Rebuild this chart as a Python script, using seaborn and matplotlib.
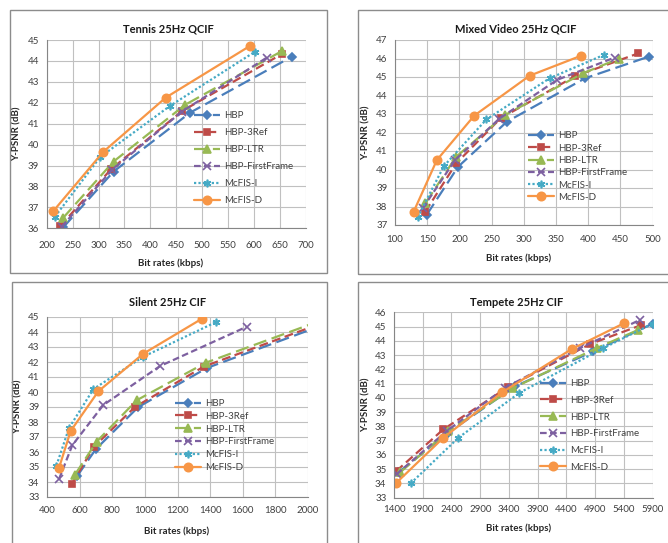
import numpy as np
import pandas as pd
import matplotlib
matplotlib.use("Agg")
import matplotlib.pyplot as plt
from matplotlib.patches import Rectangle
import seaborn as sns

# ---------------- data ----------------
series = ["HBP", "HBP-3Ref", "HBP-LTR", "HBP-FirstFrame", "McFIS-I", "McFIS-D"]

tennis_rate = [
    [232, 329, 477, 673],
    [226, 324, 461, 654],
    [231, 329, 467, 654],
    [229, 326, 461, 625],
    [216, 303, 438, 602],
    [213, 309, 430, 592],
]
tennis_psnr = [
    [36.05, 38.71, 41.53, 44.20],
    [36.10, 38.82, 41.60, 44.33],
    [36.48, 39.19, 41.90, 44.47],
    [36.08, 38.79, 41.58, 44.16],
    [36.56, 39.40, 41.85, 44.44],
    [36.83, 39.65, 42.25, 44.71],
]

mixed_rate = [
    [149, 198, 274, 395, 494],
    [147, 195, 264, 380, 478],
    [147, 195, 271, 392, 448],
    [143, 193, 262, 352, 441],
    [135, 176, 242, 340, 424],
    [129, 165, 223, 309, 389],
]
mixed_psnr = [
    [37.54, 40.15, 42.59, 44.93, 46.10],
    [37.72, 40.33, 42.77, 45.05, 46.28],
    [38.17, 40.69, 42.95, 45.20, 46.00],
    [37.90, 40.50, 42.75, 44.85, 46.05],
    [37.41, 40.19, 42.71, 44.93, 46.19],
    [37.72, 40.51, 42.91, 45.07, 46.15],
]

silent_rate = [
    [585, 700, 960, 1380, 2100],
    [551, 688, 939, 1362, 2100],
    [572, 705, 950, 1373, 2100],
    [474, 555, 745, 1093, 1624],
    [458, 535, 685, 990, 1434],
    [474, 545, 715, 990, 1352],
]
silent_psnr = [
    [34.40, 36.20, 39.00, 41.60, 44.50],
    [33.85, 36.35, 39.00, 41.70, 44.65],
    [34.50, 36.70, 39.45, 41.95, 44.85],
    [34.20, 36.45, 39.13, 41.73, 44.35],
    [35.10, 37.60, 40.20, 42.35, 44.65],
    [34.95, 37.40, 40.05, 42.55, 44.90],
]

tempete_rate = [
    [1475, 2346, 3506, 4869, 5900],
    [1435, 2258, 3390, 4811, 5700],
    [1504, 2346, 3477, 4927, 5652],
    [1446, 2316, 3331, 4637, 5681],
    [1690, 2520, 3581, 5043, 5900],
    [1435, 2258, 3285, 4492, 5402],
]
tempete_psnr = [
    [34.77, 37.56, 40.81, 43.26, 45.20],
    [34.85, 37.79, 40.77, 43.77, 45.10],
    [34.77, 37.67, 40.70, 43.49, 44.77],
    [34.65, 37.67, 40.70, 43.49, 45.47],
    [34.00, 37.20, 40.35, 43.49, 45.20],
    [34.02, 37.20, 40.40, 43.42, 45.23],
]

titles = ["Tennis 25Hz QCIF", "Mixed Video 25Hz QCIF", "Silent 25Hz CIF", "Tempete 25Hz CIF"]

# ---------------- styling ----------------
colors = ["#4A7EBB", "#BE4B48", "#98B954", "#7D60A0", "#46AAC5", "#F79646"]
markers = ["D", "s", "^", "x", (6, 2, 0), "o"]
msizes = [4.2, 5, 5.5, 5.5, 5.5, 6]
lstyles = [(0, (6, 2.5)), (0, (4, 2)), (0, (6, 2.5)), (0, (3, 1.5)), (0, (1, 1)), "-"]

sns.set_style("whitegrid")
plt.rcParams["font.family"] = ["Lato", "DejaVu Sans"]

W, H = 668, 543
fig = plt.figure(figsize=(W / 100, H / 100), dpi=100)


def px_axes(l, t, r, b):
    return fig.add_axes([l / W, 1 - b / H, (r - l) / W, (b - t) / H])


# panel frames
for (l, t, r, b) in [(10, 10, 327, 273), (358, 10, 680, 274),
                     (12, 282, 327, 560), (358, 282, 680, 560)]:
    fig.add_artist(Rectangle((l / W, 1 - b / H), (r - l) / W, (b - t) / H,
                             transform=fig.transFigure, fill=False,
                             edgecolor="#8c8c8c", linewidth=1.0))

panels = [
    dict(rate=tennis_rate, psnr=tennis_psnr, box=(46.7, 40, 305.7, 228.3),
         xlim=(200, 700), xstep=50, ylim=(36, 45),
         title_xy=(168, 29), ylab_x=17, xlab_y=263, xlab_x=171,
         leg=(194, 117.3), legsp=0.82, xpad=6.0),
    dict(rate=mixed_rate, psnr=mixed_psnr, box=(395, 40, 652.6, 225),
         xlim=(100, 500), xstep=50, ylim=(37, 47),
         title_xy=(516, 29), ylab_x=366, xlab_y=258, xlab_x=519,
         leg=(528, 137.3), legsp=0.34, xpad=4.5),
    dict(rate=silent_rate, psnr=silent_psnr, box=(47, 317, 308, 497),
         xlim=(400, 2000), xstep=200, ylim=(33, 45),
         title_xy=(168, 302), ylab_x=18, xlab_y=531, xlab_x=177,
         leg=(175, 405), legsp=0.39, xpad=3.5),
    dict(rate=tempete_rate, psnr=tempete_psnr, box=(394, 312.3, 652.6, 497.7),
         xlim=(1400, 5900), xstep=500, ylim=(33, 46),
         title_xy=(517, 303), ylab_x=366, xlab_y=528, xlab_x=519,
         leg=(540, 385), legsp=0.80, xpad=2.5),
]

for title, p in zip(titles, panels):
    ax = px_axes(*p["box"])
    for i, name in enumerate(series):
        df = pd.DataFrame({"rate": p["rate"][i], "psnr": p["psnr"][i]})
        sns.lineplot(data=df, x="rate", y="psnr", ax=ax, sort=False,
                     color=colors[i], linestyle=lstyles[i], linewidth=1.6,
                     marker=markers[i], markersize=msizes[i],
                     markeredgecolor=colors[i], markeredgewidth=1.2,
                     label=name, clip_on=True)

    ax.set_xlim(*p["xlim"])
    ax.set_ylim(*p["ylim"])
    ax.set_xticks(np.arange(p["xlim"][0], p["xlim"][1] + 1, p["xstep"]))
    ax.set_yticks(np.arange(p["ylim"][0], p["ylim"][1] + 1, 1))
    ax.grid(True, color="#c0c0c0", linewidth=0.8)
    for s in ["top", "right"]:
        ax.spines[s].set_visible(False)
    for s in ["left", "bottom"]:
        ax.spines[s].set_color("#868686")
        ax.spines[s].set_linewidth(0.8)
    ax.tick_params(axis="both", length=3, width=0.8, color="#868686",
                   labelsize=7, labelcolor="#404040")
    ax.tick_params(axis="x", pad=p["xpad"])
    ax.tick_params(axis="y", pad=2.5)

    ax.set_xlabel("Bit rates (kbps)", fontsize=7, fontweight="bold", color="#262626")
    ax.set_ylabel("Y-PSNR (dB)", fontsize=7, fontweight="bold", color="#262626")
    l, t, r, b = p["box"]
    ax.xaxis.label.set_va("center")
    ax.yaxis.label.set_va("center")
    ax.xaxis.set_label_coords((p["xlab_x"] - l) / (r - l), (b - p["xlab_y"]) / (b - t))
    ax.yaxis.set_label_coords((p["ylab_x"] - l) / (r - l), 0.5)

    fig.text(p["title_xy"][0] / W, 1 - p["title_xy"][1] / H, title,
             ha="center", va="center", fontsize=8, fontweight="bold", color="#1a1a1a")

    lx, ly = p["leg"]
    ax.legend(loc="upper left", bbox_to_anchor=(lx / W, 1 - (ly - 6) / H),
              bbox_transform=fig.transFigure, frameon=False, fontsize=7,
              borderpad=0, borderaxespad=0, handlelength=2.7, handletextpad=0.35,
              labelspacing=p["legsp"], labelcolor="#404040")

fig.savefig("out.png", dpi=100, facecolor="white")
